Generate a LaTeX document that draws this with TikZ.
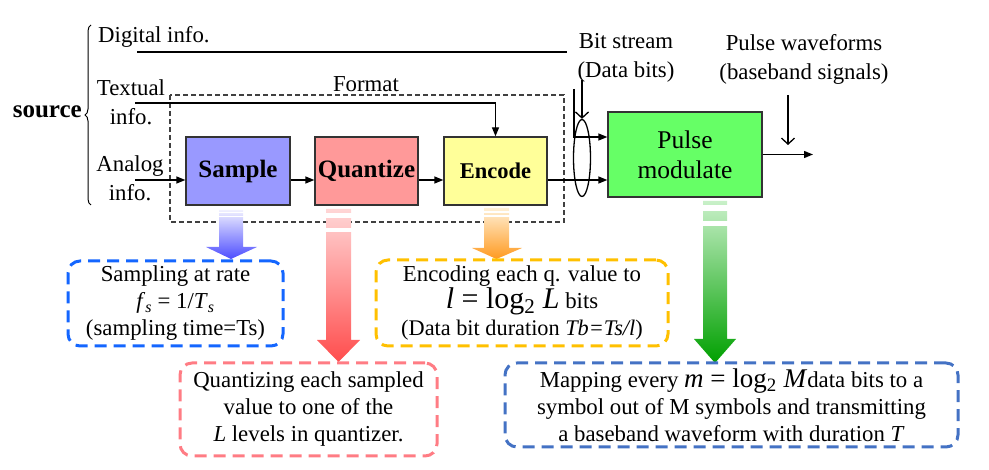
\documentclass[tikz,border=0pt]{standalone}
\usepackage{fontspec}
\setmainfont{Liberation Serif}
\usetikzlibrary{arrows.meta,decorations.pathreplacing,shapes.geometric}
\definecolor{sampfill}{HTML}{9999FF}
\definecolor{quantfill}{HTML}{FF9999}
\definecolor{encfill}{HTML}{FFFF99}
\definecolor{pulsefill}{HTML}{66FF66}
\definecolor{bluetop}{HTML}{F0F0FF}
\definecolor{bluebot}{HTML}{4D4DFF}
\definecolor{redtop}{HTML}{FFD6D6}
\definecolor{redbot}{HTML}{FF4D4D}
\definecolor{orangetop}{HTML}{FFF0D6}
\definecolor{orangebot}{HTML}{FF9A20}
\definecolor{greentop}{HTML}{C8F0C8}
\definecolor{greenbot}{HTML}{00A000}
\definecolor{boxblue}{HTML}{1466FF}
\definecolor{boxred}{HTML}{FF7C84}
\definecolor{boxyellow}{HTML}{FFC000}
\definecolor{boxblueb}{HTML}{4472C4}
\begin{document}
\begin{tikzpicture}[x=1pt,y=-1pt,
  txt/.style={inner sep=0pt, font=\fontsize{22.8}{29}\selectfont, align=center},
  blk/.style={draw=black!80, line width=1.3pt, inner sep=0pt, align=center},
  ar/.style={-{Triangle[length=9pt,width=7pt]}, line width=1.3pt},
  barb/.style={-{Straight Barb[length=6pt,width=13pt]}, line width=1.3pt},
  plain/.style={line width=1.3pt},
  notebox/.style={rounded corners=12pt, line width=3pt, dash pattern=on 12pt off 7pt, inner sep=0pt, align=center, font=\fontsize{22.8}{27}\selectfont}
]
\useasboundingbox (0,0) rectangle (989,470);

% texts on the left
\node[txt, anchor=east, font=\fontsize{25}{30}\selectfont\bfseries] (source) at (82,112) {source};
\draw[decorate, decoration={brace, amplitude=6pt}, line width=1pt] (91,205) -- (91,25);
\node[txt, anchor=west] (digital) at (98,37) {Digital info.};
\node[txt] (textual) at (131,102.5) {Textual\\info.};
\node[txt] (analog) at (130,178) {Analog\\info.};
\node[txt] (format) at (366,84) {Format};

% format dashed box
\draw[dashed, dash pattern=on 5pt off 3pt, line width=1.3pt, draw=black!75] (170,95) rectangle (564,222);

% blocks
\node[blk, fill=sampfill, minimum width=104pt, minimum height=68pt, font=\fontsize{25}{30}\selectfont\bfseries] (sample) at (238,171) {Sample};
\node[blk, fill=quantfill, minimum width=103pt, minimum height=68pt, font=\fontsize{25}{30}\selectfont\bfseries] (quant) at (366.5,171) {Quantize};
\node[blk, fill=encfill, minimum width=103pt, minimum height=68pt, font=\fontsize{22.5}{28}\selectfont\bfseries] (enc) at (495.5,171) {Encode};
\node[blk, fill=pulsefill, minimum width=154pt, minimum height=85pt, font=\fontsize{25.5}{30}\selectfont] (pulse) at (685,154.5) {Pulse\\modulate};

% coordinates
\coordinate (yline) at (0,180);
\coordinate (ybit) at (0,137);
\coordinate (dstart) at (137,52);
\coordinate (dend) at (567,52);
\coordinate (tstart) at (135,103);
\coordinate (astart) at (135,180);
\coordinate (bstart) at (574,89);
\coordinate (dbstart) at (582,80);
\coordinate (outend) at (813,154.5);
\coordinate (pwstart) at (788,95);
\coordinate (pwend) at (788,145);

% connectors
\draw[plain] (dstart) -- (dend);
\draw[ar] (tstart) -| (enc.north);
\draw[ar] (astart) -- (sample.west |- astart);
\draw[ar] (sample.east |- yline) -- (quant.west |- yline);
\draw[ar] (quant.east |- yline) -- (enc.west |- yline);
\draw[ar] (enc.east |- yline) -- (pulse.west |- yline);
\draw[ar] (bstart) |- (pulse.west |- ybit);
\node[draw, ellipse, line width=1.3pt, minimum width=17pt, minimum height=77pt, inner sep=0pt] (ell) at (582,158) {};
\draw[barb] (dbstart) -- (ell.north);
\draw[ar] (pulse.east) -- (outend);
\draw[barb] (pwstart) -- (pwend);

\node[txt] (bitstream) at (626,58) {Bit stream\\(Data bits)};
\node[txt] (waveforms) at (804,59.5) {Pulse waveforms\\(baseband signals)};

% gradient arrows
\shade[top color=bluetop, bottom color=bluebot] (219,210) -- (243,210) -- (243,247) -- (257,247) -- (231,259) -- (206,247) -- (219,247) -- cycle;
\fill[white] (218,212.3) rectangle (244,213.5);
\fill[white] (218,215.8) rectangle (244,217);
\shade[top color=redtop, bottom color=redbot] (326,209) -- (351,209) -- (351,340) -- (360,340) -- (338.5,362) -- (317,340) -- (326,340) -- cycle;
\fill[white] (325,213.3) rectangle (352,218.3);
\fill[white] (325,228) rectangle (352,232);
\shade[top color=orangetop, bottom color=orangebot] (484,208) -- (509,208) -- (509,248) -- (522,248) -- (496.5,259) -- (472,248) -- (484,248) -- cycle;
\fill[white] (483,211.5) rectangle (510,212.8);
\fill[white] (483,215.5) rectangle (510,216.8);
\shade[top color=greentop, bottom color=greenbot] (703,201) -- (727,201) -- (727,339) -- (736,339) -- (715,363) -- (694,339) -- (703,339) -- cycle;
\fill[white] (702,205) rectangle (728,211);
\fill[white] (702,221) rectangle (728,226);

% note boxes
\node[notebox, draw=boxblue, minimum width=215pt, minimum height=85pt] (nsamp) at (175.5,303.5)
  {Sampling at rate\\ \textit{f}\textsubscript{\textit{s}} = 1/\textit{T}\textsubscript{\textit{s}}\\(sampling time=Ts)};
\node[notebox, draw=boxred, minimum width=257pt, minimum height=93pt] (nquant) at (308.5,409.5)
  {Quantizing each sampled\\value to one of the\\\textit{L} levels in quantizer.};
\node[notebox, draw=boxyellow, minimum width=292pt, minimum height=86pt] (nenc) at (522,303)
  {Encoding each q. value to\\{\fontsize{30}{30}\selectfont\textit{l} = log\textsubscript{2} \textit{L}} bits\\{\fontsize{22.3}{27}\selectfont(Data bit duration \textit{Tb=Ts/l})}};
\node[notebox, draw=boxblueb, minimum width=453pt, minimum height=84pt] (npulse) at (731.5,405)
  {Mapping every {\fontsize{27}{27}\selectfont\textit{m} = log\textsubscript{2} \textit{M}}data bits to a\\symbol out of M symbols and transmitting\\a baseband waveform with duration \textit{T}};
\end{tikzpicture}
\end{document}
